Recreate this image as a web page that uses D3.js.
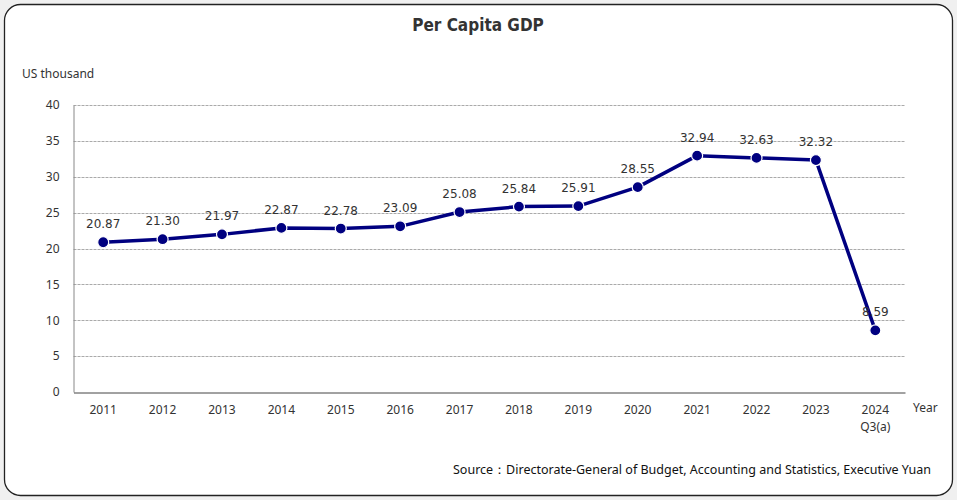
<!DOCTYPE html>
<html><head><meta charset="utf-8">
<script src="https://cdn.jsdelivr.net/npm/d3@7"></script>
<style>
html,body{margin:0;padding:0;background:#f0f0f0;}
svg{display:block;}
</style></head>
<body><svg id="chart" width="957" height="500"></svg>
<script>
const categories = ["2011","2012","2013","2014","2015","2016","2017","2018","2019","2020","2021","2022","2023","2024\nQ3(a)"];
const values = [20.87,21.30,21.97,22.87,22.78,23.09,25.08,25.84,25.91,28.55,32.94,32.63,32.32,8.59];
const yTicks = [0,5,10,15,20,25,30,35,40];
const title = "Per Capita GDP";
const yUnit = "US thousand";
const xUnit = "Year";
const source = "Source\uFF1ADirectorate-General of Budget, Accounting and Statistics, Executive Yuan";

const svg = d3.select("#chart");
const color = "#000080";
const labelFont = "'Noto Sans', 'Open Sans', sans-serif";

svg.append("rect").attr("x",4.5).attr("y",4.5).attr("width",948).attr("height",491)
  .attr("rx",16).attr("ry",16).attr("fill","#fff").attr("stroke","#222").attr("stroke-width",1.3);

svg.append("text").attr("x",478).attr("y",31).attr("text-anchor","middle")
  .attr("font-family","'DejaVu Sans Condensed','DejaVu Sans',sans-serif").attr("font-weight","bold")
  .attr("font-size",17).attr("fill","#333").text(title);

const x = d3.scaleBand().domain(categories).range([73.5,905]);
const y = d3.scaleLinear().domain([0,40]).range([392,105]);

const g = svg.append("g");
// grid
g.selectAll("line.grid").data(yTicks.filter(d=>d>0)).join("line")
  .attr("x1",73.5).attr("x2",905).attr("y1",d=>Math.round(y(d))+0.5).attr("y2",d=>Math.round(y(d))+0.5)
  .attr("stroke","#aaa").attr("stroke-width",1).attr("stroke-dasharray","3,1");

// y axis
const yAxis = g.append("g").attr("transform","translate(73.5,0)")
  .call(d3.axisLeft(y).tickValues(yTicks).tickSize(0).tickPadding(14));
yAxis.select(".domain").attr("stroke","#888");
yAxis.selectAll("text").attr("font-family",labelFont).attr("font-size",12).attr("fill","#333");

// x axis
const xAxis = g.append("g").attr("transform","translate(0,392.5)")
  .call(d3.axisBottom(x).tickSize(0).tickPadding(12).tickFormat(""));
xAxis.select(".domain").attr("stroke","#444");
xAxis.selectAll(".tick").each(function(d){
  const parts = d.split("\n");
  parts.forEach((s,i)=>d3.select(this).append("text").attr("y",21 + i*17).attr("text-anchor","middle")
    .attr("font-family",labelFont).attr("font-size",12).attr("fill","#333").text(s));
});

svg.append("text").attr("x",913).attr("y",412).attr("font-family",labelFont).attr("font-size",12)
  .attr("fill","#333").text(xUnit);
svg.append("text").attr("x",22).attr("y",78).attr("font-family",labelFont).attr("font-size",12)
  .attr("fill","#333").text(yUnit);

const cx = d => x(d) + x.bandwidth()/2;
const data = categories.map((c,i)=>({c, v:values[i]}));

g.append("path").datum(data)
  .attr("fill","none").attr("stroke",color).attr("stroke-width",3.5).attr("stroke-linejoin","round")
  .attr("d", d3.line().x(d=>cx(d.c)).y(d=>y(d.v)));

g.selectAll("circle.pt").data(data).join("circle")
  .attr("cx",d=>cx(d.c)).attr("cy",d=>y(d.v)).attr("r",5.5)
  .attr("fill",color).attr("stroke","#fff").attr("stroke-width",1.2);

g.selectAll("text.val").data(data).join("text")
  .attr("x",d=>cx(d.c)).attr("y",d=>y(d.v)-14).attr("text-anchor","middle")
  .attr("font-family","'DejaVu Sans',sans-serif").attr("font-size",12).attr("fill","#333")
  .text(d=>d.v.toFixed(2));

svg.append("text").attr("x",931).attr("y",474).attr("text-anchor","end")
  .attr("font-family",labelFont).attr("font-size",12.5).attr("fill","#111").text(source);
</script></body></html>
